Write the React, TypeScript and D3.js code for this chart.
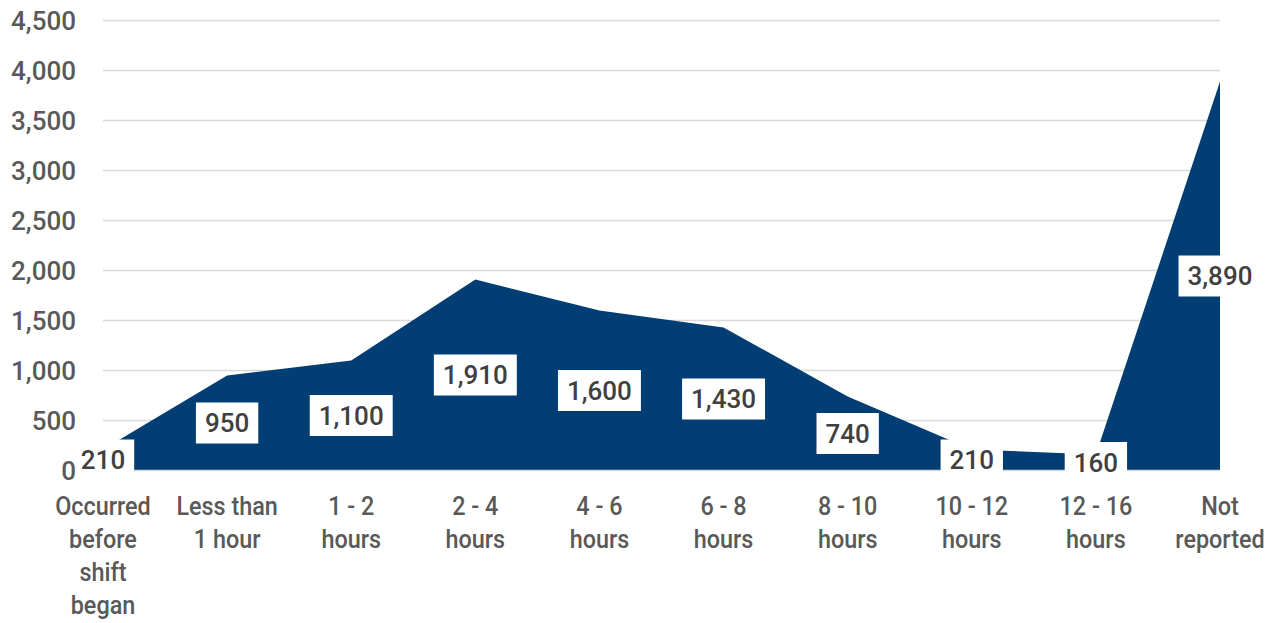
import React, { useEffect, useRef } from "react";
import * as d3 from "d3";

const categories: string[][] = [
  ["Occurred", "before", "shift", "began"],
  ["Less than", "1 hour"],
  ["1 - 2", "hours"],
  ["2 - 4", "hours"],
  ["4 - 6", "hours"],
  ["6 - 8", "hours"],
  ["8 - 10", "hours"],
  ["10 - 12", "hours"],
  ["12 - 16", "hours"],
  ["Not", "reported"],
];
const values: number[] = [210, 950, 1100, 1910, 1600, 1430, 740, 210, 160, 3890];
const yTicks: number[] = [0, 500, 1000, 1500, 2000, 2500, 3000, 3500, 4000, 4500];

const W = 1280;
const H = 623;
const FONT = "Roboto, 'Liberation Sans', sans-serif";
const WEIGHT = 500;

export default function App() {
  const ref = useRef<SVGSVGElement>(null);
  useEffect(() => {
    const svg = d3.select(ref.current);
    svg.selectAll("*").remove();
    const x = d3.scalePoint<number>().domain(values.map((_, i) => i)).range([103, 1220]);
    const y = d3.scaleLinear().domain([0, 4500]).range([470.5, 20.5]);
    const fmt = d3.format(",");

    // gridlines
    svg.append("g")
      .selectAll("line")
      .data(yTicks.filter((t) => t > 0))
      .join("line")
      .attr("x1", 103)
      .attr("x2", 1220)
      .attr("y1", (d) => y(d))
      .attr("y2", (d) => y(d))
      .attr("stroke", "#d9d9d9")
      .attr("stroke-width", 1.5);

    // area
    const area = d3.area<number>()
      .x((_, i) => x(i)!)
      .y0(y(0))
      .y1((d) => y(d));
    svg.append("path").datum(values).attr("d", area).attr("fill", "#023e73");

    // baseline
    svg.append("line")
      .attr("x1", 103).attr("x2", 1220)
      .attr("y1", y(0)).attr("y2", y(0))
      .attr("stroke", "#d9d9d9").attr("stroke-width", 1.5);

    // data labels
    const lg = svg.append("g");
    values.forEach((v, i) => {
      const cx = x(i)!;
      const cy = (y(v) + y(0)) / 2;
      const g = lg.append("g");
      const rect = g.append("rect").attr("fill", "#ffffff");
      const t = g.append("text")
        .attr("x", cx)
        .attr("y", cy)
        .attr("dy", "0.36em")
        .attr("text-anchor", "middle")
        .attr("font-family", FONT)
        .attr("font-weight", WEIGHT)
        .attr("font-size", 26)
        .attr("fill", "#404040")
        .text(fmt(v));
      const w = (t.node() as SVGTextElement).getComputedTextLength();
      const bw = w + 18;
      rect.attr("x", cx - bw / 2).attr("y", cy - 20.5).attr("width", bw).attr("height", 41);
    });

    // category labels
    const cg = svg.append("g");
    categories.forEach((lines, i) => {
      const g = cg.append("g").attr("transform", `translate(${x(i)},0) scale(0.9,1)`);
      lines.forEach((ln, j) => {
        g.append("text")
          .attr("x", 0)
          .attr("y", 506 + j * 33)
          .attr("dy", "0.36em")
          .attr("text-anchor", "middle")
          .attr("font-family", FONT)
          .attr("font-weight", WEIGHT)
          .attr("font-size", 26)
          .attr("fill", "#595959")
          .text(ln);
      });
    });

    // y tick labels
    svg.append("g")
      .selectAll("text")
      .data(yTicks)
      .join("text")
      .attr("x", 76)
      .attr("y", (d) => y(d))
      .attr("dy", "0.36em")
      .attr("text-anchor", "end")
      .attr("font-family", FONT)
      .attr("font-weight", WEIGHT)
      .attr("font-size", 26)
      .attr("fill", "#595959")
      .text((d) => fmt(d));
  }, []);
  return (
    <svg
      ref={ref}
      width={W}
      height={H}
      style={{ position: "absolute", left: 0, top: 0, background: "#fff" }}
    />
  );
}
